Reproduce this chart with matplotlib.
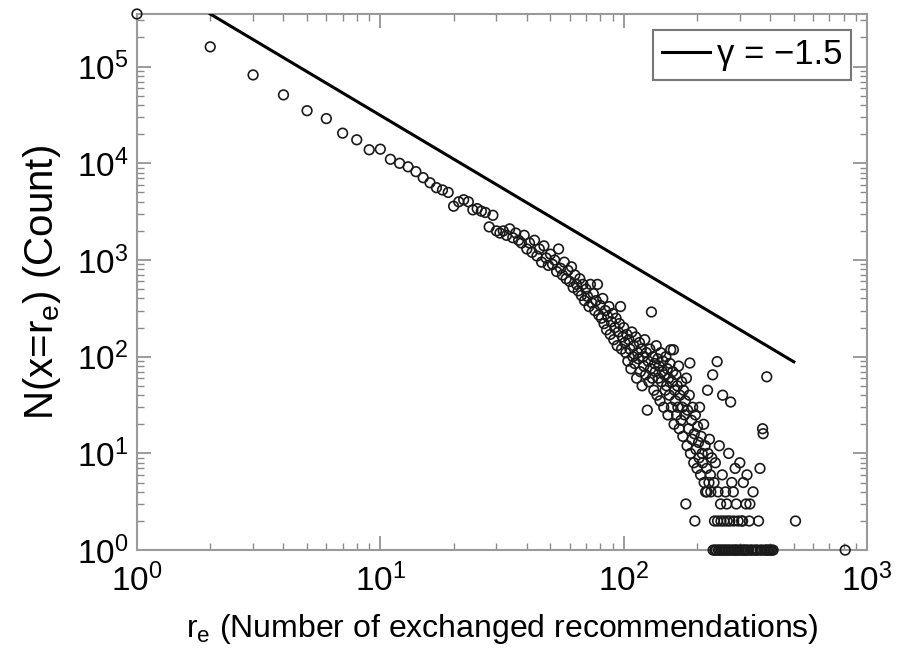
import numpy as np
import matplotlib
matplotlib.use("Agg")
import matplotlib.pyplot as plt

plt.rcParams['font.family'] = ['Liberation Sans', 'DejaVu Sans']
plt.rcParams['mathtext.fontset'] = 'custom'
plt.rcParams['mathtext.rm'] = 'Liberation Sans'
plt.rcParams['mathtext.it'] = 'Liberation Sans:italic'

# number of exchanged recommendations (r_e) and how many pairs had that count
re_small = list(range(1, 41))
count_small = [350000, 160000, 82000, 51000, 35000, 29000, 20500, 17500, 13800, 14000,
               11000, 10000, 9200, 8200, 7100, 6300, 5600, 5300, 5000, 3600,
               4000, 4200, 4000, 3300, 3400, 3200, 3100, 2200, 2900, 2000,
               1900, 2000, 1800, 2100, 1700, 1900, 1600, 1500, 1800, 1300]

re_mid = list(range(41, 101))
count_mid = [1500, 1200, 1600, 1100, 1300, 950, 1400, 1050, 880, 1150,
             900, 1000, 760, 1300, 820, 700, 950, 640, 780, 600,
             850, 520, 700, 560, 480, 640, 430, 560, 380, 500,
             420, 330, 560, 360, 450, 300, 380, 560, 270, 340,
             250, 400, 220, 300, 190, 260, 330, 170, 230, 280,
             150, 200, 250, 130, 180, 220, 330, 120, 160, 200]

re_tail = [101, 102, 103, 104, 105, 106, 107, 108, 109, 110,
           111, 112, 113, 114, 115, 116, 117, 118, 119, 120,
           121, 122, 123, 124, 125, 126, 127, 128, 129, 130,
           131, 132, 133, 134, 135, 136, 137, 138, 139, 140,
           141, 142, 143, 144, 145, 146, 147, 148, 149, 150,
           151, 152, 153, 154, 155, 156, 157, 158, 159, 160,
           161, 162, 163, 164, 165, 166, 167, 168, 169, 170,
           172, 173, 174, 175, 176, 178, 179, 180, 181, 182,
           183, 185, 186, 187, 188, 190, 191, 192, 194, 195,
           196, 197, 198, 200, 201, 203, 204, 205, 207, 208,
           210, 211, 213, 214, 216, 217, 219, 220, 221, 222,
           224, 225, 227, 228, 230]
count_tail = [140, 110, 170, 90, 150, 120, 75, 180, 100, 130,
              85, 160, 60, 110, 95, 140, 70, 120, 50, 100,
              80, 150, 65, 110, 28, 90, 55, 120, 75, 290,
              60, 100, 45, 85, 70, 130, 40, 95, 60, 80,
              35, 110, 55, 70, 90, 30, 65, 45, 100, 50,
              75, 25, 60, 40, 85, 118, 30, 55, 70, 118,
              20, 45, 35, 65, 25, 50, 30, 80, 18, 40,
              22, 55, 30, 15, 45, 25, 35, 3, 60, 12,
              28, 18, 40, 86, 10, 22, 14, 30, 8, 16,
              2, 25, 11, 7, 19, 13, 9, 30, 6, 15,
              10, 8, 20, 5, 12, 4, 7, 4, 45, 10,
              5, 14, 6, 4, 9]

re_far = [232, 233, 235, 236, 237, 238, 240, 242, 243, 244,
          245, 247, 248, 250, 251, 252, 254, 255, 256, 258,
          260, 262, 263, 265, 266, 268, 270, 271, 273, 275,
          276, 278, 280, 282, 283, 285, 287, 288, 290, 292,
          295, 297, 300, 302, 305, 307, 308, 310, 312, 315,
          318, 320, 321, 325, 328, 330, 333, 336, 340, 345,
          350, 355, 358, 363, 365, 370, 372, 374, 380, 385,
          387, 390, 395, 400, 405, 411, 508, 813]
count_far = [65, 1, 5, 2, 1, 8, 1, 89, 2, 4,
             1, 12, 1, 3, 2, 1, 6, 40, 1, 2,
             1, 4, 1, 3, 2, 1, 10, 1, 2, 34,
             1, 5, 1, 4, 2, 1, 7, 1, 3, 1,
             2, 1, 8, 1, 2, 1, 2, 5, 1, 1,
             3, 1, 6, 1, 2, 3, 1, 1, 4, 1,
             1, 1, 2, 7, 1, 1, 18, 16, 1, 1,
             62, 1, 1, 1, 1, 1, 2, 1]

# reference power law
gamma = -1.5
fit_x = [2, 500]
fit_top = 350000

re_all = re_small + re_mid + re_tail + re_far
count_all = count_small + count_mid + count_tail + count_far

fig = plt.figure(figsize=(9.07, 6.66), dpi=100)
ax = fig.add_axes([0.151, 0.174, 0.805, 0.805])

ax.scatter(re_all, count_all, s=48, facecolors='none', edgecolors='#1a1a1a',
           linewidths=1.2, clip_on=False, zorder=3)

fx = np.array(fit_x, dtype=float)
fy = fit_top * (fx / fx[0]) ** gamma
ax.plot(fx, fy, color='black', lw=2.2, label='\u03b3 = \u22121.5', zorder=4)

ax.set_xscale('log')
ax.set_yscale('log')
ax.set_xlim(1, 1000)
ax.set_ylim(1, 3.5e5)

for s in ax.spines.values():
    s.set_color('#9a9a9a')
    s.set_linewidth(1.5)
ax.tick_params(which='both', direction='in', top=True, right=True,
               color='#8a8a8a', labelsize=24)
ax.tick_params(axis='x', pad=10)
ax.tick_params(axis='y', pad=6)
ax.tick_params(which='major', length=10, width=1.2)
ax.tick_params(which='minor', length=5, width=1.0)

ax.set_xlabel(r'r$_{\mathrm{e}}$ (Number of exchanged recommendations)', fontsize=23, labelpad=10)
ax.set_ylabel(r'N(x=r$_{\mathrm{e}}$) (Count)', fontsize=29, labelpad=10)

leg = ax.legend(loc='upper right', fontsize=25, frameon=True, fancybox=False,
                handlelength=1.4, handletextpad=0.2, borderpad=0.25,
                borderaxespad=0.45)
leg.get_frame().set_edgecolor('#555555')
leg.get_frame().set_linewidth(1.5)

fig.savefig('out.png', dpi=100)
